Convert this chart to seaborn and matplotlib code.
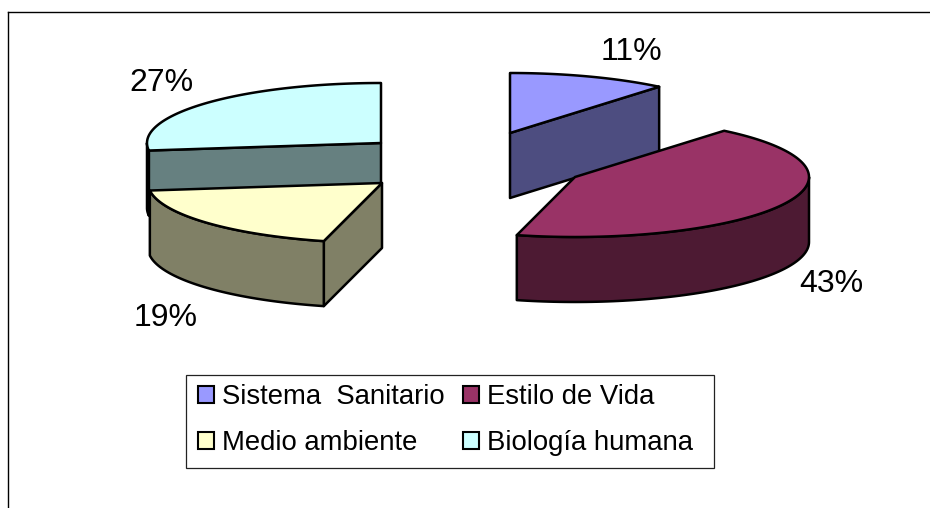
import numpy as np
import matplotlib
matplotlib.use("Agg")
import matplotlib.pyplot as plt
from matplotlib.patches import Patch, Rectangle
import seaborn as sns

labels = ["Sistema  Sanitario", "Estilo de Vida", "Medio ambiente", "Biología humana"]
values = [11, 43, 19, 27]

face_colors = ["#9999FF", "#993366", "#FFFFCC", "#CCFFFF"]
side_colors = ["#4D4D80", "#4D1A33", "#808066", "#668080"]

# layout in pixels, the pie is exploded so each slice has its own apex
apex = [(510, 133), (575, 177), (382, 183), (381, 143)]
label_pos = [(631, 52), (831, 284), (166, 318), (161, 83)]
rx, ry, depth = 234, 60, 65
draw_order = [3, 2, 0, 1]

sns.set_theme(style="white")
plt.rcParams["font.family"] = ["Liberation Sans", "DejaVu Sans"]


def rim(center, a):
    # a is degrees clockwise from 12 o'clock
    a = np.radians(a)
    return center[0] + rx * np.sin(a), center[1] - ry * np.cos(a)


def draw_poly(ax, xs, ys, color):
    ax.fill(xs, ys, facecolor=color, edgecolor="black", linewidth=1.8, joinstyle="round")


def radial_wall(ax, center, a, color):
    x, y = rim(center, a)
    xs = [center[0], x, x, center[0]]
    ys = [center[1], y, y + depth, center[1] + depth]
    draw_poly(ax, xs, ys, color)


fig = plt.figure(figsize=(9.3, 5.08), dpi=100)
ax = fig.add_axes([8 / 930, 0, 922 / 930, 496 / 508])
ax.set_xlim(8, 930)
ax.set_ylim(508, 12)
ax.set_xticks([])
ax.set_yticks([])
sns.despine(ax=ax, top=False, right=True, left=False, bottom=True)
for side in ["top", "left"]:
    ax.spines[side].set_color("black")
    ax.spines[side].set_linewidth(1.0)

edges = np.cumsum([0] + values) * 3.6

for i in draw_order:
    start, end = edges[i], edges[i + 1]
    c = apex[i]

    if np.sin(np.radians(start)) < -1e-6:
        radial_wall(ax, c, start, side_colors[i])
    if np.sin(np.radians(end)) > 1e-6:
        radial_wall(ax, c, end, side_colors[i])

    # outer wall, only the front half of the rim shows
    lo, hi = max(start, 90), min(end, 270)
    if lo < hi:
        t = np.linspace(lo, hi, 80)
        x, y = rim(c, t)
        draw_poly(ax, np.r_[x, x[::-1]], np.r_[y, (y + depth)[::-1]], side_colors[i])

    t = np.linspace(start, end, 120)
    x, y = rim(c, t)
    draw_poly(ax, np.r_[c[0], x], np.r_[c[1], y], face_colors[i])

for v, (x, y) in zip(values, label_pos):
    ax.text(x, y, f"{v}%", fontsize=23, ha="center", va="center", color="black")

# legend box is wider on the right than the entries need, so it gets its own frame
ax.add_patch(Rectangle((186, 375), 528, 93, facecolor="white", edgecolor="#222222", linewidth=0.9))

handles = [Patch(facecolor=f, edgecolor="black", linewidth=1.5) for f in face_colors]
# matplotlib fills columns first, so reorder to read across the rows
order = [0, 2, 1, 3]
leg = ax.legend(
    [handles[i] for i in order],
    [labels[i] for i in order],
    ncols=2,
    loc="upper left",
    bbox_to_anchor=(198, 384),
    bbox_transform=ax.transData,
    fontsize=19.8,
    labelcolor="black",
    frameon=False,
    handlelength=0.58,
    handleheight=0.58,
    handletextpad=0.3,
    columnspacing=0.65,
    labelspacing=0.72,
    borderpad=0,
    borderaxespad=0,
)

fig.savefig("out.png", dpi=100)
